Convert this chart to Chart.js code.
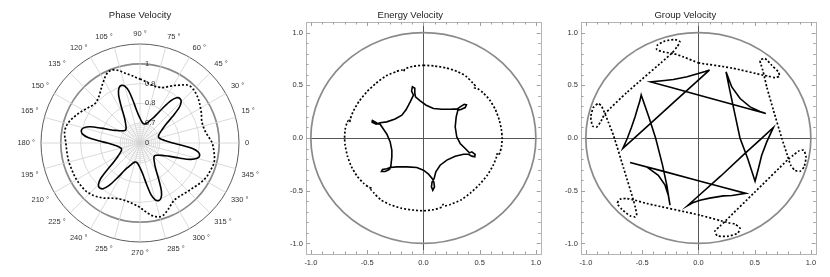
<!DOCTYPE html>
<html>
<head>
<meta charset="utf-8">
<script src="https://cdn.jsdelivr.net/npm/chart.js@4.4.0/dist/chart.umd.min.js"></script>
<style>
  body { margin: 0; background: #fff; }
  .panel { position: absolute; top: 0; }
</style>
</head>
<body>
<div class="panel" style="left:0"><canvas id="phaseChart" width="280" height="277"></canvas></div>
<div class="panel" style="left:280px"><canvas id="energyChart" width="275" height="277"></canvas></div>
<div class="panel" style="left:555px"><canvas id="groupChart" width="275" height="277"></canvas></div>
<script>
const FONT = "'Liberation Sans', Arial, sans-serif";

// ---- Phase velocity (polar), radius read every 3 degrees, from 0 deg counter-clockwise
const angleStep = 3;
const phaseAngles = Array.from({ length: 120 }, (_, i) => i * angleStep);
const phaseSolid = [
  0.765, 0.740, 0.725, 0.713, 0.705, 0.700, 0.698, 0.700, 0.705, 0.713,
  0.725, 0.740, 0.765, 0.810, 0.865, 0.894, 0.902, 0.894, 0.863, 0.808,
  0.764, 0.739, 0.724, 0.712, 0.705, 0.700, 0.698, 0.700, 0.705, 0.713,
  0.725, 0.741, 0.766, 0.811, 0.867, 0.897, 0.906, 0.897, 0.866, 0.811,
  0.766, 0.740, 0.725, 0.713, 0.705, 0.700, 0.698, 0.700, 0.705, 0.713,
  0.725, 0.740, 0.765, 0.810, 0.865, 0.895, 0.903, 0.895, 0.864, 0.809,
  0.764, 0.739, 0.724, 0.712, 0.705, 0.700, 0.698, 0.700, 0.705, 0.713,
  0.725, 0.740, 0.765, 0.810, 0.866, 0.897, 0.905, 0.897, 0.865, 0.810,
  0.765, 0.740, 0.725, 0.713, 0.705, 0.700, 0.698, 0.700, 0.705, 0.713,
  0.725, 0.741, 0.766, 0.811, 0.867, 0.897, 0.906, 0.897, 0.866, 0.811,
  0.766, 0.740, 0.725, 0.713, 0.705, 0.700, 0.698, 0.700, 0.705, 0.713,
  0.725, 0.741, 0.766, 0.812, 0.868, 0.899, 0.908, 0.899, 0.867, 0.811
];
const phaseDotted = [
  0.965, 0.955, 0.945, 0.937, 0.932, 0.930, 0.930, 0.933, 0.940, 0.947,
  0.953, 0.960, 0.967, 0.973, 0.978, 0.982, 0.983, 0.977, 0.962, 0.947,
  0.935, 0.920, 0.908, 0.900, 0.897, 0.896, 0.898, 0.903, 0.910, 0.917,
  0.923, 0.930, 0.940, 0.950, 0.960, 0.975, 0.988, 0.995, 0.993, 0.982,
  0.965, 0.950, 0.935, 0.922, 0.912, 0.905, 0.902, 0.905, 0.912, 0.920,
  0.930, 0.940, 0.950, 0.960, 0.970, 0.978, 0.983, 0.985, 0.983, 0.978,
  0.975, 0.973, 0.972, 0.972, 0.972, 0.972, 0.971, 0.970, 0.970, 0.970,
  0.970, 0.969, 0.968, 0.967, 0.965, 0.960, 0.955, 0.948, 0.940, 0.932,
  0.922, 0.913, 0.906, 0.902, 0.900, 0.900, 0.902, 0.905, 0.910, 0.917,
  0.925, 0.940, 0.955, 0.970, 0.980, 0.986, 0.983, 0.972, 0.960, 0.948,
  0.938, 0.935, 0.935, 0.937, 0.940, 0.944, 0.948, 0.953, 0.960, 0.966,
  0.972, 0.977, 0.980, 0.982, 0.985, 0.987, 0.985, 0.980, 0.975, 0.970
];
const polarGridValues = [0.6, 0.61, 0.62, 0.63, 0.64, 0.65, 0.66, 0.67, 0.68, 0.69, 0.7, 0.8, 0.9, 1.0, 1.1];
const polarTickValues = [0.6, 0.7, 0.8, 0.9, 1.0];
const polarTickLabels = ['0', '0.7', '0.8', '0.9', '1'];

// ---- Energy velocity [x, y]
const energySolid = [
  [-0.117, 0.342], [-0.088, 0.406], [-0.105, 0.447], [-0.097, 0.485], [-0.076, 0.472], [-0.076, 0.428], [-0.070, 0.390],
  [-0.028, 0.352], [0.025, 0.311], [0.090, 0.279], [0.164, 0.273], [0.238, 0.273], [0.303, 0.276],
  [0.327, 0.295], [0.363, 0.320], [0.383, 0.314], [0.372, 0.289], [0.333, 0.270], [0.307, 0.264],
  [0.292, 0.200], [0.283, 0.106], [0.297, 0.011], [0.327, -0.052], [0.372, -0.100], [0.410, -0.141],
  [0.431, -0.131], [0.460, -0.154], [0.457, -0.179], [0.431, -0.172], [0.401, -0.154],
  [0.357, -0.154], [0.283, -0.173], [0.209, -0.210], [0.149, -0.258], [0.111, -0.321], [0.096, -0.384],
  [0.078, -0.416], [0.072, -0.463], [0.084, -0.495], [0.099, -0.463], [0.093, -0.416], [0.078, -0.384],
  [0.046, -0.343], [0.001, -0.305], [-0.058, -0.280], [-0.147, -0.274], [-0.236, -0.274], [-0.295, -0.280],
  [-0.325, -0.292], [-0.363, -0.298], [-0.372, -0.317], [-0.339, -0.317], [-0.301, -0.298], [-0.289, -0.267],
  [-0.280, -0.179], [-0.280, -0.116], [-0.295, -0.037], [-0.324, 0.036], [-0.354, 0.083], [-0.384, 0.131],
  [-0.414, 0.143], [-0.452, 0.166], [-0.455, 0.150], [-0.420, 0.131], [-0.384, 0.144],
  [-0.325, 0.153], [-0.251, 0.181], [-0.191, 0.216], [-0.153, 0.270], [-0.132, 0.311], [-0.117, 0.342]
];
const energyDotted = [
  [0.00, 0.690], [0.10, 0.683], [0.20, 0.665], [0.30, 0.632], [0.38, 0.585], [0.44, 0.52], [0.465, 0.49],
  [0.455, 0.475], [0.48, 0.47], [0.53, 0.43], [0.59, 0.36], [0.64, 0.27], [0.675, 0.17], [0.695, 0.07],
  [0.70, 0.00], [0.695, -0.08], [0.68, -0.14], [0.665, -0.165], [0.655, -0.15], [0.65, -0.18], [0.62, -0.26],
  [0.57, -0.35], [0.50, -0.44], [0.42, -0.52], [0.33, -0.59], [0.24, -0.63], [0.19, -0.645], [0.175, -0.63],
  [0.165, -0.655], [0.09, -0.68], [0.00, -0.69], [-0.10, -0.683], [-0.20, -0.665], [-0.30, -0.63],
  [-0.38, -0.585], [-0.44, -0.52], [-0.465, -0.49], [-0.455, -0.475], [-0.48, -0.47], [-0.53, -0.43],
  [-0.59, -0.36], [-0.64, -0.27], [-0.675, -0.17], [-0.695, -0.07], [-0.70, 0.00], [-0.695, 0.08],
  [-0.68, 0.14], [-0.665, 0.165], [-0.655, 0.15], [-0.65, 0.18], [-0.62, 0.26], [-0.57, 0.35], [-0.50, 0.44],
  [-0.42, 0.52], [-0.33, 0.59], [-0.24, 0.63], [-0.19, 0.645], [-0.175, 0.63], [-0.165, 0.655],
  [-0.09, 0.68], [0.00, 0.690]
];

// ---- Group velocity [x, y]
const groupSolid = [
  [0.100, 0.646], [0.000, 0.549], [-0.200, 0.356], [-0.400, 0.163], [-0.550, 0.018], [-0.671, -0.098],
  [-0.630, 0.000], [-0.595, 0.100], [-0.563, 0.200], [-0.538, 0.290], [-0.520, 0.350], [-0.508, 0.408],
  [-0.440, 0.200], [-0.380, 0.000], [-0.320, -0.250], [-0.280, -0.450], [-0.252, -0.637],
  [-0.267, -0.542], [-0.296, -0.447], [-0.356, -0.353], [-0.459, -0.274], [-0.607, -0.232],
  [-0.300, -0.319], [0.000, -0.405], [0.200, -0.462], [0.422, -0.525],
  [0.300, -0.545], [0.222, -0.549], [0.100, -0.570], [0.015, -0.590], [-0.050, -0.615], [-0.098, -0.643],
  [0.000, -0.550], [0.200, -0.360], [0.400, -0.160], [0.550, -0.015], [0.667, 0.100],
  [0.608, -0.037], [0.563, -0.163], [0.534, -0.289], [0.504, -0.409],
  [0.440, -0.200], [0.370, 0.000], [0.320, 0.250], [0.280, 0.450], [0.246, 0.627],
  [0.297, 0.484], [0.371, 0.374], [0.460, 0.295], [0.548, 0.252], [0.600, 0.232],
  [0.300, 0.320], [0.000, 0.408], [-0.200, 0.468], [-0.423, 0.532],
  [-0.300, 0.545], [-0.222, 0.554], [-0.100, 0.580], [0.000, 0.611], [0.060, 0.630], [0.100, 0.646]
];
const groupDotted = [
  [0.000, 0.712], [0.300, 0.663], [0.578, 0.595], [0.622, 0.586], [0.682, 0.573], [0.720, 0.586],
  [0.711, 0.627], [0.652, 0.690], [0.593, 0.753], [0.548, 0.737], [0.557, 0.697], [0.572, 0.643],
  [0.585, 0.590], [0.608, 0.484], [0.667, 0.264], [0.741, 0.000], [0.791, -0.163], [0.821, -0.258],
  [0.860, -0.308], [0.904, -0.315], [0.940, -0.274], [0.957, -0.179], [0.936, -0.116], [0.889, -0.125],
  [0.844, -0.163], [0.800, -0.201], [0.500, -0.515], [0.237, -0.790], [0.193, -0.835], [0.148, -0.883],
  [0.169, -0.928], [0.267, -0.931], [0.347, -0.905], [0.371, -0.858], [0.326, -0.817], [0.267, -0.803],
  [0.200, -0.785], [0.015, -0.732], [-0.459, -0.621], [-0.563, -0.590], [-0.636, -0.574], [-0.696, -0.580],
  [-0.720, -0.621], [-0.681, -0.675], [-0.607, -0.738], [-0.563, -0.748], [-0.548, -0.732], [-0.560, -0.660],
  [-0.577, -0.590], [-0.666, -0.280], [-0.755, 0.027], [-0.800, 0.150], [-0.830, 0.230], [-0.860, 0.300],
  [-0.889, 0.327], [-0.933, 0.289], [-0.956, 0.200], [-0.939, 0.112], [-0.903, 0.105], [-0.865, 0.160],
  [-0.830, 0.230], [-0.637, 0.430], [-0.236, 0.804], [-0.190, 0.864], [-0.163, 0.911], [-0.207, 0.933],
  [-0.296, 0.920], [-0.364, 0.880], [-0.370, 0.839], [-0.311, 0.816], [-0.222, 0.801], [-0.133, 0.769],
  [0.000, 0.712]
];

// ---- cartesian axes
const xLimit = 1.043;
const yLimit = 1.1;
const unitRadius = 1;
const axisTicks = [-1.0, -0.5, 0, 0.5, 1.0];
const axisTickLabels = ['-1.0', '-0.5', '0.0', '0.5', '1.0'];
const minorTicks = [-1.0, -0.9, -0.8, -0.7, -0.6, -0.5, -0.4, -0.3, -0.2, -0.1, 0,
  0.1, 0.2, 0.3, 0.4, 0.5, 0.6, 0.7, 0.8, 0.9, 1.0];

function isMajor(v) {
  return axisTicks.some(t => Math.abs(t - v) < 1e-6);
}

function tickLabel(v) {
  const i = axisTicks.findIndex(t => Math.abs(t - v) < 1e-6);
  return i >= 0 ? axisTickLabels[i] : '';
}

function toPoints(list) {
  return list.map(p => ({ x: p[0], y: p[1] }));
}

// unit circle under the curves, frame with inward ticks on top
const framePlugin = {
  id: 'frame',
  beforeDatasetsDraw(chart) {
    const { ctx, scales: { x, y } } = chart;
    const cx = x.getPixelForValue(0);
    const cy = y.getPixelForValue(0);
    ctx.save();
    ctx.strokeStyle = '#8a8a8a';
    ctx.lineWidth = 1.7;
    ctx.beginPath();
    ctx.ellipse(cx, cy, x.getPixelForValue(unitRadius) - cx, cy - y.getPixelForValue(unitRadius), 0, 0, 2 * Math.PI);
    ctx.stroke();
    ctx.restore();
  },
  afterDraw(chart) {
    const { ctx, chartArea: a, scales: { x, y } } = chart;
    ctx.save();
    ctx.strokeStyle = '#b4b4b4';
    ctx.lineWidth = 1;
    ctx.strokeRect(Math.round(a.left) + 0.5, Math.round(a.top) + 0.5, Math.round(a.right - a.left), Math.round(a.bottom - a.top));
    ctx.strokeStyle = '#a0a0a0';
    ctx.beginPath();
    x.ticks.forEach(t => {
      const px = Math.round(x.getPixelForValue(t.value)) + 0.5;
      const len = isMajor(t.value) ? 4 : 2.5;
      ctx.moveTo(px, a.bottom); ctx.lineTo(px, a.bottom - len);
      ctx.moveTo(px, a.top); ctx.lineTo(px, a.top + len);
    });
    y.ticks.forEach(t => {
      const py = Math.round(y.getPixelForValue(t.value)) + 0.5;
      const len = isMajor(t.value) ? 4 : 2.5;
      ctx.moveTo(a.left, py); ctx.lineTo(a.left + len, py);
      ctx.moveTo(a.right, py); ctx.lineTo(a.right - len, py);
    });
    ctx.stroke();
    ctx.restore();
  }
};

function cartesianChart(id, title, dotted, solid) {
  return new Chart(document.getElementById(id), {
    type: 'scatter',
    data: {
      datasets: [
        { data: toPoints(dotted), showLine: true, borderColor: '#000', borderWidth: 1.7, borderDash: [2, 2],
          pointRadius: 0, tension: 0.2, fill: false },
        { data: toPoints(solid), showLine: true, borderColor: '#000', borderWidth: 1.6,
          pointRadius: 0, tension: 0, fill: false }
      ]
    },
    options: {
      responsive: false,
      animation: false,
      layout: { padding: { left: 0, right: 14.3, top: 0, bottom: 0 } },
      plugins: {
        legend: { display: false },
        tooltip: { enabled: false },
        title: {
          display: true, text: title, color: '#222',
          font: { family: FONT, size: 9.5, weight: 'normal', lineHeight: 1.2 },
          padding: { top: 10, bottom: 0.6 }
        }
      },
      scales: {
        x: {
          type: 'linear', min: -xLimit, max: xLimit,
          afterBuildTicks: s => { s.ticks = minorTicks.map(v => ({ value: v })); },
          afterFit: s => { s.height = 23; },
          grid: { color: c => (c.tick && c.tick.value === 0 ? '#555' : 'rgba(0,0,0,0)'), drawTicks: false },
          border: { display: false },
          ticks: { callback: v => tickLabel(v), autoSkip: false, maxRotation: 0, padding: 4,
            color: '#333', font: { family: FONT, size: 7.5 } }
        },
        y: {
          type: 'linear', min: -yLimit, max: yLimit,
          afterBuildTicks: s => { s.ticks = minorTicks.map(v => ({ value: v })); },
          afterFit: s => { s.width = 26; },
          grid: { color: c => (c.tick && c.tick.value === 0 ? '#555' : 'rgba(0,0,0,0)'), drawTicks: false },
          border: { display: false },
          ticks: { callback: v => tickLabel(v), autoSkip: false, padding: 3,
            color: '#333', font: { family: FONT, size: 7.5 } }
        }
      }
    },
    plugins: [framePlugin]
  });
}

// ---- polar panel as a radar chart: index 0 at the top, going clockwise
const radarIndex = phaseAngles.map((_, i) => (((90 - i * angleStep) % 360) + 360) % 360 / angleStep);
const radarLabels = radarIndex.map(k => phaseAngles[k]);
const radarSolid = radarIndex.map(k => phaseSolid[k]);
const radarDotted = radarIndex.map(k => phaseDotted[k]);

const radialLabelPlugin = {
  id: 'radialLabels',
  beforeDatasetsDraw(chart) {
    const s = chart.scales.r;
    const ctx = chart.ctx;
    ctx.save();
    ctx.font = '7.5px ' + FONT;
    ctx.fillStyle = '#333';
    ctx.textAlign = 'left';
    ctx.textBaseline = 'middle';
    polarTickValues.forEach((v, i) => {
      ctx.fillText(polarTickLabels[i], s.xCenter + 5, s.yCenter - s.getDistanceFromCenterForValue(v));
    });
    ctx.restore();
  }
};

new Chart(document.getElementById('phaseChart'), {
  type: 'radar',
  data: {
    labels: radarLabels,
    datasets: [
      { data: radarDotted, borderColor: '#000', borderWidth: 1.7, borderDash: [2, 2], pointRadius: 0, tension: 0.3, fill: false },
      { data: radarSolid, borderColor: '#000', borderWidth: 1.6, pointRadius: 0, tension: 0.25, fill: false }
    ]
  },
  options: {
    responsive: false,
    animation: false,
    layout: { padding: { left: 2, right: 2, top: 0, bottom: 19.4 } },
    plugins: {
      legend: { display: false },
      tooltip: { enabled: false },
      title: {
        display: true, text: 'Phase Velocity', color: '#222',
        font: { family: FONT, size: 9.5, weight: 'normal', lineHeight: 1.2 },
        padding: { top: 10, bottom: 7.6 }
      }
    },
    scales: {
      r: {
        min: 0.6, max: 1.1,
        afterBuildTicks: s => { s.ticks = polarGridValues.map(v => ({ value: v })); },
        ticks: { display: false },
        grid: {
          circular: true,
          color: c => {
            const v = c.tick ? c.tick.value : 0;
            if (v > 1.05) return '#333';
            if (Math.abs(v - 1) < 1e-6) return '#8a8a8a';
            if (v < 0.695) return '#dcdcdc';
            return '#d0d0d0';
          },
          lineWidth: c => (c.tick && Math.abs(c.tick.value - 1) < 1e-6 ? 1.7 : 0.8)
        },
        angleLines: {
          color: c => (radarLabels[c.index] % 15 === 0 ? '#d0d0d0' : 'rgba(0,0,0,0)'),
          lineWidth: 0.8
        },
        pointLabels: {
          callback: v => (v % 15 === 0 ? (v === 0 ? '0' : v + ' °') : ''),
          color: '#333',
          padding: 6,
          font: { family: FONT, size: 7.5 }
        }
      }
    }
  },
  plugins: [radialLabelPlugin]
});

cartesianChart('energyChart', 'Energy Velocity', energyDotted, energySolid);
cartesianChart('groupChart', 'Group Velocity', groupDotted, groupSolid);
</script>
</body>
</html>
